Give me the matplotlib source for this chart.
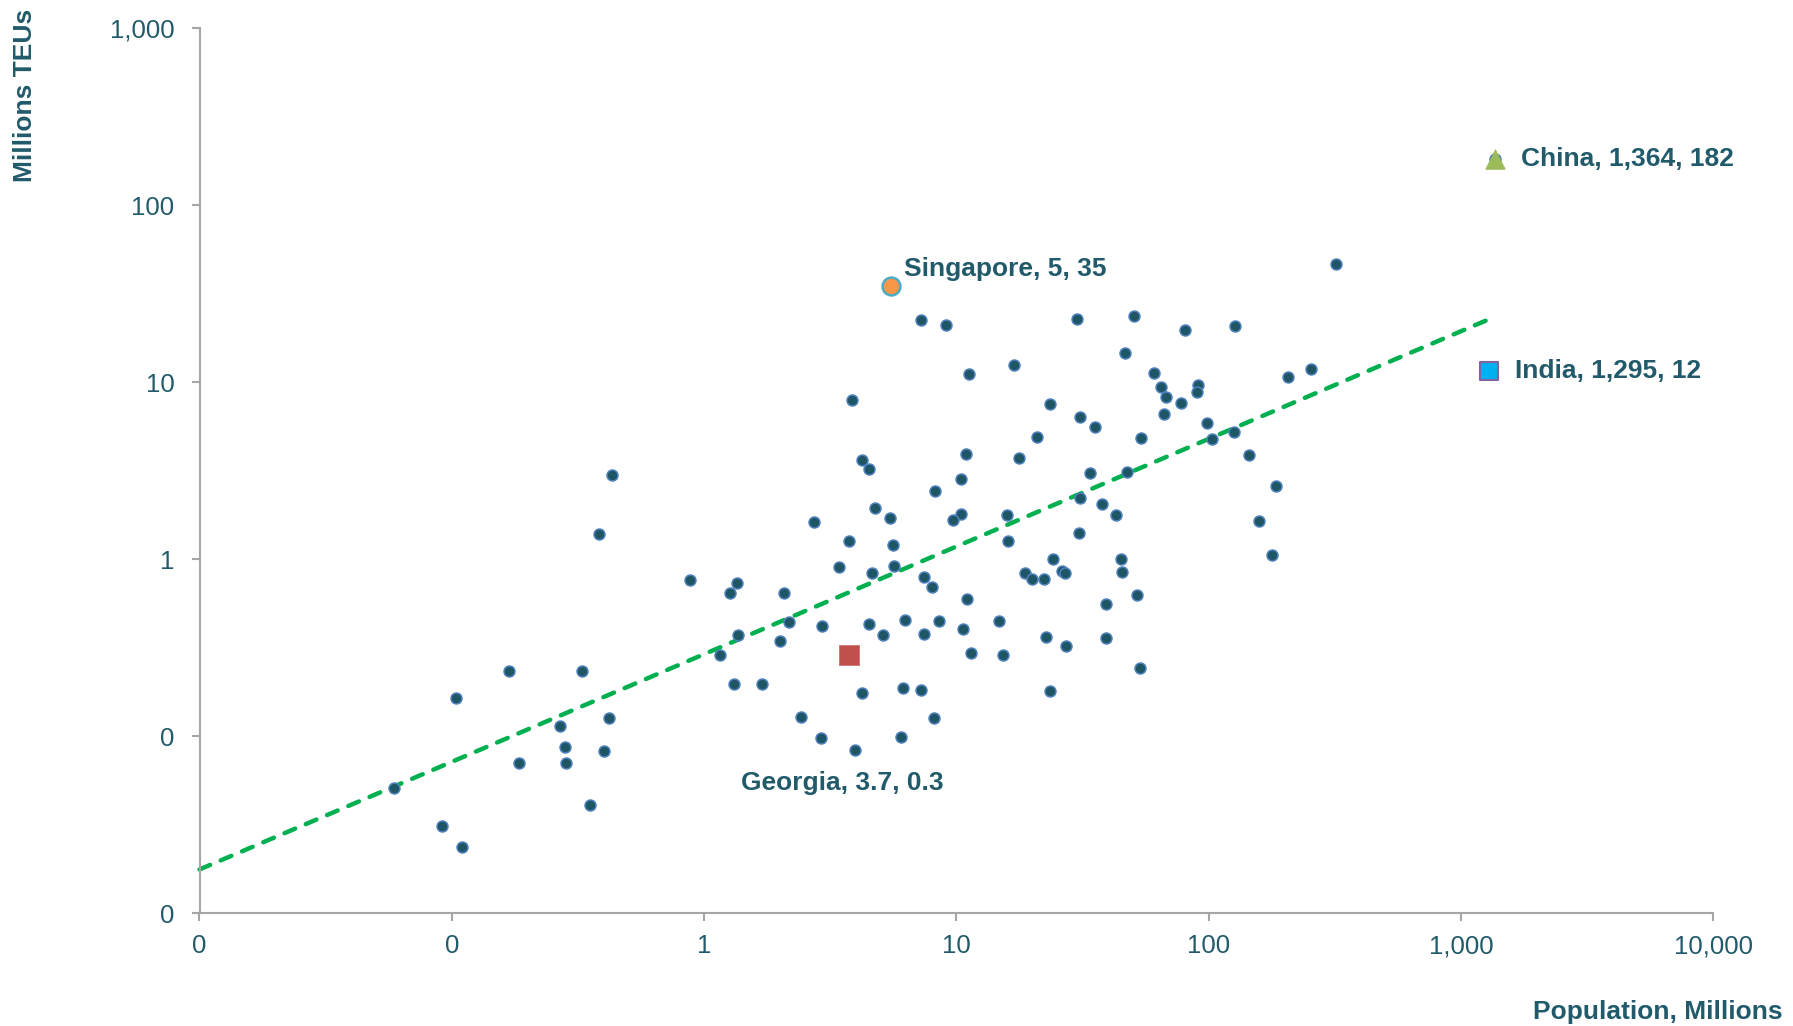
import matplotlib
matplotlib.use("Agg")
import matplotlib.pyplot as plt
import numpy as np

# ---- data: population (millions) vs container throughput (millions TEUs) ----
population = [
    0.430, 0.383, 0.877, 0.168, 0.328, 0.104, 0.419, 0.269, 0.281, 0.402,
    0.185, 0.284, 0.0592, 0.352, 0.0912, 0.110,
    11.25, 16.87, 3.857, 23.43, 30.9, 35.4, 20.8, 10.89, 17.7, 4.24,
    4.517, 10.43, 33.95, 47.6, 8.2, 30.9, 4.757, 5.47, 10.43, 9.67,
    15.87, 37.9, 42.8, 2.719, 3.763, 5.608, 16.02, 30.6, 3.425, 5.66,
    4.616, 24.2, 44.8, 45.2, 18.7, 19.89, 22.3, 26.3, 26.9, 1.354,
    1.263, 2.068, 7.42, 7.98, 10.98, 39.2, 2.17, 1.363, 2.0, 2.941,
    4.504, 6.27, 8.56, 5.13, 7.46, 10.59, 14.72, 22.7, 39.1, 27.2,
    11.39, 15.34, 1.156, 1.317, 1.692, 4.24, 6.13, 7.22, 23.56, 2.415,
    8.17, 2.906, 6.03, 3.975,
    318.7, 29.99, 50.4, 80.8, 127.5, 46.5, 60.9, 64.7, 67.7, 90.7,
    89.6, 77.4, 66.5, 206.2, 254.4, 54.1, 98.7, 103.3, 125.6, 144.0,
    184.8, 158.7, 177.7, 52.0, 53.4, 7.26, 9.12,
    1364, 1295, 5.49, 3.74,
]
teus = [
    2.995, 1.390, 0.767, 0.234, 0.234, 0.165, 0.127, 0.115, 0.0874, 0.0826,
    0.0704, 0.0704, 0.0512, 0.0409, 0.0311, 0.0238,
    11.18, 12.47, 7.94, 7.54, 6.34, 5.57, 4.89, 3.92, 3.735, 3.64,
    3.237, 2.853, 3.073, 3.113, 2.432, 2.228, 1.957, 1.712, 1.796, 1.674,
    1.786, 2.045, 1.772, 1.631, 1.269, 1.205, 1.269, 1.413, 0.901, 0.913,
    0.834, 1.0, 1.004, 0.845, 0.834, 0.771, 0.777, 0.859, 0.834, 0.738,
    0.648, 0.642, 0.794, 0.697, 0.597, 0.561, 0.4405, 0.3736, 0.3468, 0.4182,
    0.4327, 0.4541, 0.448, 0.375, 0.3784, 0.4055, 0.4464, 0.3639, 0.3578, 0.325,
    0.2967, 0.287, 0.289, 0.1966, 0.1966, 0.175, 0.1867, 0.182, 0.1796, 0.129,
    0.1264, 0.0978, 0.0995, 0.0837,
    46.6, 22.79, 23.78, 19.75, 20.8, 14.7, 11.28, 9.37, 8.29, 9.62,
    8.78, 7.64, 6.65, 10.71, 11.94, 4.83, 5.89, 4.78, 5.26, 3.90,
    2.595, 1.646, 1.057, 0.631, 0.2422, 22.4, 20.99,
    182, 11.6, 34.9, 0.288,
]

# highlighted countries: name, population, TEUs, label text
china = ("China", 1364, 182, "China, 1,364, 182")
india = ("India", 1295, 11.6, "India, 1,295, 12")
singapore = ("Singapore", 5.49, 34.9, "Singapore, 5, 35")
georgia = ("Georgia", 3.74, 0.288, "Georgia, 3.7, 0.3")

# power trend line  y = a * x^b
trend_a = 0.2911
trend_b = 0.6082
trend_x_range = [0.01, 1364]

x_ticks = [0.01, 0.1, 1, 10, 100, 1000, 10000]
x_tick_labels = ["0", "0", "1", "10", "100", "1,000", "10,000"]
y_ticks = [0.01, 0.1, 1, 10, 100, 1000]
y_tick_labels = ["0", "0", "1", "10", "100", "1,000"]

# ---- styling ----
TEXT = "#215A6A"
SPINE = "#A6A6A6"
plt.rcParams["font.family"] = ["Liberation Sans", "DejaVu Sans"]

W, H, DPI = 1793, 1026, 100
fig = plt.figure(figsize=(W / DPI, H / DPI), dpi=DPI, facecolor="white")
ax = fig.add_axes([199.5 / W, 1 - 913.3 / H, (1713.3 - 199.5) / W, (913.3 - 28.3) / H])

ax.set_xscale("log")
ax.set_yscale("log")
ax.set_xlim(0.01, 10000)
ax.set_ylim(0.01, 1000)

# trend line
tx = np.logspace(np.log10(trend_x_range[0]), np.log10(trend_x_range[1]), 200)
ty = trend_a * tx ** trend_b
ax.plot(tx, ty, color="#00B050", lw=3.2, linestyle=(0, (2.6, 2.6)),
        dash_capstyle="round", zorder=2, clip_on=False)

# all countries
ax.scatter(population, teus, s=62, color="#1F5666", edgecolors="#4F81BD",
           linewidths=1.1, zorder=3)

# highlighted
ax.scatter([china[1]], [china[2]], marker="^", s=200, color="#9BBB59",
           edgecolors="#9BBB59", linewidths=0.5, zorder=4, clip_on=False)
ax.scatter([india[1]], [india[2]], marker="s", s=165, color="#00B0F0",
           edgecolors="#8064A2", linewidths=1.5, zorder=4, clip_on=False)
ax.scatter([singapore[1]], [singapore[2]], marker="o", s=165, color="#F79646",
           edgecolors="#4BACC6", linewidths=1.8, zorder=4)
ax.scatter([georgia[1]], [georgia[2]], marker="s", s=205, color="#C0504D",
           edgecolors="#D36F6C", linewidths=0.6, zorder=4)

lab_kw = dict(textcoords="offset pixels", fontsize=19, fontweight="bold",
              color=TEXT, annotation_clip=False)
ax.annotate(china[3], (china[1], china[2]), xytext=(26, 0), ha="left", va="center", **lab_kw)
ax.annotate(india[3], (india[1], india[2]), xytext=(26, 0), ha="left", va="center", **lab_kw)
ax.annotate(singapore[3], (singapore[1], singapore[2]), xytext=(13, 17), ha="left", va="center", **lab_kw)
ax.annotate(georgia[3], (georgia[1], georgia[2]), xytext=(-6, -128), ha="center", va="center", **lab_kw)

# axes styling
for s in ["top", "right"]:
    ax.spines[s].set_visible(False)
for s in ["left", "bottom"]:
    ax.spines[s].set_color(SPINE)
    ax.spines[s].set_linewidth(1.5)

ax.set_xticks(x_ticks)
ax.set_xticklabels(x_tick_labels)
ax.set_yticks(y_ticks)
ax.set_yticklabels(y_tick_labels)
ax.minorticks_off()
ax.tick_params(axis="both", which="major", direction="out", length=6, width=1.5,
               color=SPINE, labelsize=18.5, labelcolor=TEXT)
ax.tick_params(axis="x", pad=9)
ax.tick_params(axis="y", pad=12)

fig.text(25 / W, 1 - 95 / H, "Millions TEUs", rotation=90, ha="center", va="center",
         fontsize=19, fontweight="bold", color=TEXT)
fig.text(1783 / W, 1 - 1011.7 / H, "Population, Millions", ha="right", va="center",
         fontsize=19, fontweight="bold", color=TEXT)

fig.savefig("out.png", dpi=DPI, facecolor="white")
